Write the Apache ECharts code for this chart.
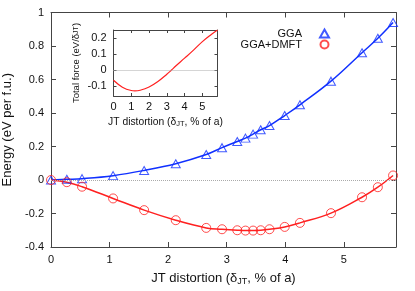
<!DOCTYPE html>
<html>
<head>
<meta charset="utf-8">
<script src="https://cdn.jsdelivr.net/npm/echarts@6/dist/echarts.min.js"></script>
<style>
html,body{margin:0;padding:0;background:#fff;}
#c{width:415px;height:291px;}
</style>
</head>
<body>
<div id="c"></div>
<script>
// JT distortion (% of a)
const distortion = [0, 0.27, 0.53, 1.06, 1.59, 2.13, 2.65, 2.92, 3.18, 3.32, 3.45, 3.58, 3.73, 3.99, 4.25, 4.78, 5.31, 5.58, 5.84];
// Energy (eV per f.u.)
const energyGGA = [0, 0.004, 0.008, 0.026, 0.057, 0.097, 0.152, 0.193, 0.23, 0.25, 0.274, 0.3, 0.325, 0.385, 0.449, 0.59, 0.76, 0.846, 0.94];
const energyDMFT = [0, -0.013, -0.04, -0.11, -0.18, -0.24, -0.286, -0.294, -0.30, -0.302, -0.302, -0.30, -0.294, -0.28, -0.256, -0.198, -0.103, -0.043, 0.027];
// Inset: total force vs distortion
const forceX = [0, 0.5, 1, 1.2, 1.5, 2, 2.5, 3, 3.25, 3.5, 4, 4.5, 5, 5.5, 5.85];
const forceY = [-0.062, -0.105, -0.126, -0.128, -0.124, -0.104, -0.07, -0.025, 0, 0.026, 0.075, 0.125, 0.178, 0.222, 0.25];
// Tick values
const mainXTicks = [0, 1, 2, 3, 4, 5];
const mainYTicks = [-0.4, -0.2, 0, 0.2, 0.4, 0.6, 0.8, 1];
const insetXTicks = [0, 1, 2, 3, 4, 5];
const insetYTicks = [-0.1, 0, 0.1, 0.2];

const seriesNames = ['GGA', 'GGA+DMFT'];
const xTitle = 'JT distortion (δ{sub|JT}, % of a)';
const yTitle = 'Energy (eV per f.u.)';
const insetYTitle = 'Total force (eV/δ{sub|JT})';

const BLUE = '#1030ff';
const RED = '#ff2020';
const AX = '#444';
const FONT = '"Liberation Sans", Arial, sans-serif';

const pairs = (xs, ys) => xs.map((x, i) => [x, ys[i]]);

function axis(o) {
  return {
    type: 'value',
    gridIndex: o.grid,
    min: o.min, max: o.max,
    position: o.position,
    axisLine: {show: true, onZero: false, lineStyle: {color: AX, width: 1}},
    axisTick: {show: true, inside: true, length: o.tickLen, customValues: o.ticks, lineStyle: {color: AX}},
    splitLine: {show: false},
    axisLabel: o.labels ? {show: true, customValues: o.ticks, color: '#111', fontFamily: FONT, fontSize: 11, margin: o.margin} : {show: false},
    name: o.name || '',
    nameLocation: 'middle',
    nameGap: o.nameGap,
    nameRotate: o.nameRotate,
    nameTextStyle: o.nameTextStyle
  };
}

const chart = echarts.init(document.getElementById('c'), null, {renderer: 'canvas'});
chart.setOption({
  animation: false,
  backgroundColor: '#fff',
  textStyle: {fontFamily: FONT},
  grid: [
    {left: 51, top: 12.5, right: 19, bottom: 44, containLabel: false, outerBoundsMode: 'none'},
    {left: 113.5, top: 30, width: 104, height: 66, containLabel: false, outerBoundsMode: 'none'}
  ],
  xAxis: [
    axis({grid: 0, min: 0, max: 5.89, position: 'bottom', ticks: mainXTicks, tickLen: 5, labels: true, margin: 7,
      name: xTitle, nameGap: 24,
      nameTextStyle: {fontSize: 13, color: '#111', fontFamily: FONT, rich: {sub: {fontSize: 9, color: '#111', padding: [6, 0, 0, 0]}}}}),
    axis({grid: 0, min: 0, max: 5.89, position: 'top', ticks: mainXTicks, tickLen: 5, labels: false}),
    axis({grid: 1, min: 0, max: 5.85, position: 'bottom', ticks: insetXTicks, tickLen: 3, labels: true, margin: 5,
      name: xTitle, nameGap: 20,
      nameTextStyle: {fontSize: 10.3, color: '#111', fontFamily: FONT, rich: {sub: {fontSize: 7.5, color: '#111', padding: [4, 0, 0, 0]}}}}),
    axis({grid: 1, min: 0, max: 5.85, position: 'top', ticks: insetXTicks, tickLen: 3, labels: false})
  ],
  yAxis: [
    axis({grid: 0, min: -0.4, max: 1, position: 'left', ticks: mainYTicks, tickLen: 5, labels: true, margin: 7,
      name: yTitle, nameGap: 32, nameRotate: 90,
      nameTextStyle: {fontSize: 13, color: '#111', fontFamily: FONT}}),
    axis({grid: 0, min: -0.4, max: 1, position: 'right', ticks: mainYTicks, tickLen: 5, labels: false}),
    axis({grid: 1, min: -0.16, max: 0.25, position: 'left', ticks: insetYTicks, tickLen: 3, labels: true, margin: 7,
      name: insetYTitle, nameGap: 32, nameRotate: 90,
      nameTextStyle: {fontSize: 9.5, color: '#111', fontFamily: FONT, rich: {sub: {fontSize: 7, color: '#111'}}}}),
    axis({grid: 1, min: -0.16, max: 0.25, position: 'right', ticks: insetYTicks, tickLen: 3, labels: false})
  ],
  legend: {
    orient: 'vertical',
    align: 'right',
    right: 85,
    top: 28,
    padding: 0,
    itemWidth: 9,
    itemHeight: 8,
    itemGap: 0,
    data: seriesNames,
    textStyle: {fontSize: 11, color: '#111', fontFamily: FONT, lineHeight: 9, padding: [0, 13, 0, 0]},
  },
  series: [
    {
      name: 'GGA fit', type: 'line', xAxisIndex: 0, yAxisIndex: 0,
      data: pairs(distortion, energyGGA), smooth: 0.4, showSymbol: false,
      lineStyle: {color: BLUE, width: 1.5}, z: 3,
      markLine: {silent: true, symbol: 'none', label: {show: false},
        lineStyle: {color: '#aaa', type: 'dotted', width: 1},
        data: [{yAxis: 0}]}
    },
    {
      name: 'GGA+DMFT fit', type: 'line', xAxisIndex: 0, yAxisIndex: 0,
      data: pairs(distortion, energyDMFT), smooth: 0.4, showSymbol: false,
      lineStyle: {color: RED, width: 1.5}, z: 3
    },
    {
      name: 'GGA', type: 'scatter', xAxisIndex: 0, yAxisIndex: 0,
      data: pairs(distortion, energyGGA), symbol: 'triangle', symbolSize: [9, 8],
      itemStyle: {color: 'rgba(255,255,255,0)', borderColor: BLUE, borderWidth: 1}, z: 4
    },
    {
      name: 'GGA+DMFT', type: 'scatter', xAxisIndex: 0, yAxisIndex: 0,
      data: pairs(distortion, energyDMFT), symbol: 'circle', symbolSize: 9,
      itemStyle: {color: 'rgba(255,255,255,0)', borderColor: RED, borderWidth: 1}, z: 4
    },
    {
      name: 'force', type: 'line', xAxisIndex: 2, yAxisIndex: 2,
      data: pairs(forceX, forceY), smooth: 0.4, showSymbol: false,
      lineStyle: {color: RED, width: 1.2},
      markLine: {silent: true, symbol: 'none', label: {show: false},
        lineStyle: {color: '#aaa', type: 'dotted', width: 1},
        data: [{yAxis: 0}]}
    }
  ]
});
</script>
</body>
</html>
